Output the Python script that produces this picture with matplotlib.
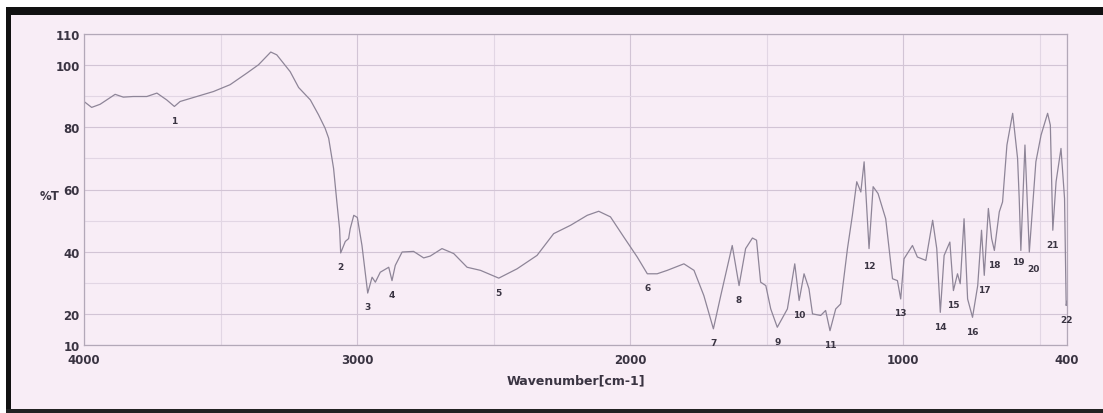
import matplotlib.pyplot as plt
from matplotlib.patches import Rectangle

# IR spectrum (wavenumber in cm-1, transmittance in %T)
wavenumber = [4000, 3972, 3941, 3886, 3856, 3820, 3770, 3733, 3697, 3669, 3648, 3587,
              3526, 3465, 3404, 3361, 3316, 3294, 3245, 3214, 3171, 3141, 3117, 3104,
              3086, 3074, 3064, 3060, 3043, 3031, 3025, 3012, 2999, 2982, 2961, 2945,
              2933, 2915, 2884, 2872, 2860, 2835, 2793, 2756, 2732, 2689, 2646, 2597,
              2548, 2481, 2414, 2341, 2280, 2218, 2157, 2115, 2072, 2023, 1974, 1937,
              1901, 1864, 1803, 1766, 1730, 1695, 1668, 1626, 1601, 1577, 1552, 1537,
              1522, 1503, 1485, 1461, 1424, 1397, 1381, 1363, 1345, 1332, 1302, 1284,
              1268, 1247, 1229, 1204, 1186, 1170, 1155, 1143, 1125, 1110, 1092, 1064,
              1039, 1021, 1009, 997, 966, 948, 917, 892, 877, 864, 850, 829, 816, 801,
              791, 777, 764, 746, 727, 713, 703, 688, 676, 666, 648, 636, 620, 599, 581,
              575, 569, 554, 538, 514, 495, 471, 461, 452, 440, 422, 409, 403, 400]
transmittance = [88.3, 86.4, 87.4, 90.6, 89.7, 89.9, 89.9, 91.0, 88.8, 86.7, 88.3, 89.9,
                 91.5, 93.7, 97.4, 100.1, 104.2, 103.3, 97.9, 92.8, 88.8, 84.0, 79.7, 76.5,
                 66.8, 56.0, 47.4, 39.6, 43.3, 44.2, 47.4, 51.7, 51.0, 42.0, 26.7, 31.8,
                 30.2, 33.4, 35.0, 30.7, 35.6, 39.9, 40.1, 38.0, 38.6, 41.0, 39.4, 35.0,
                 34.0, 31.5, 34.5, 38.8, 45.8, 48.5, 51.7, 53.0, 51.2, 44.7, 38.3, 32.9,
                 32.9, 34.0, 36.1, 34.0, 25.9, 15.2, 25.9, 42.0, 29.1, 41.0, 44.4, 43.7,
                 30.2, 29.1, 21.6, 15.7, 21.6, 36.1, 24.3, 32.9, 28.1, 20.0, 19.5, 21.1,
                 14.6, 21.6, 23.2, 41.0, 51.7, 62.5, 59.2, 68.9, 41.0, 60.9, 58.7, 50.6,
                 31.3, 30.7, 24.8, 37.7, 42.0, 38.3, 37.2, 50.1, 41.0, 20.5, 38.8, 43.1, 27.5, 32.9,
                 29.7, 50.6, 24.8, 18.9, 29.1, 46.9, 32.4, 53.9, 44.2, 40.4, 52.8, 56.0, 74.3, 84.5, 70.0,
                 57.1, 40.4, 74.3, 39.9, 68.9, 77.5, 84.5, 80.7, 46.9, 62.5, 73.2, 57.1, 22.7, 24.0]

# numbered peaks
peak_wn = [3669, 3060, 2961, 2872, 2481, 1937, 1695, 1601, 1461, 1381, 1268,
           1125, 1009, 864, 816, 746, 703, 666, 569, 538, 452, 403]
peak_t = [86.7, 39.6, 26.7, 30.7, 31.5, 32.9, 15.2, 29.1, 15.7, 24.3, 14.6,
          41.0, 24.8, 20.5, 27.5, 18.9, 32.4, 40.4, 40.4, 39.9, 46.9, 22.7]

x_ticks = [4000, 3000, 2000, 1000, 400]
y_ticks = [10, 20, 40, 60, 80, 100, 110]

bg = '#f8edf6'
line_col = '#8e8598'
text_col = '#3a3442'

fig = plt.figure(figsize=(11.03, 4.14), dpi=100, facecolor='white')
# scanned page: pink paper with dark edges
fig.add_artist(Rectangle((6/1103, 0), 1, 1 - 8/414, transform=fig.transFigure,
                         facecolor=bg, edgecolor='none', zorder=-10))
fig.add_artist(Rectangle((6/1103, 1 - 16/414), 1, 8/414, transform=fig.transFigure,
                         facecolor='#111111', edgecolor='none', zorder=-9))
fig.add_artist(Rectangle((6/1103, 0), 5/1103, 1 - 8/414, transform=fig.transFigure,
                         facecolor='#111111', edgecolor='none', zorder=-9))
fig.add_artist(Rectangle((6/1103, 0), 1, 4/414, transform=fig.transFigure,
                         facecolor='#222222', edgecolor='none', zorder=-9))

ax = fig.add_axes([84/1103, 1 - 346/414, (1067 - 84)/1103, (346 - 35)/414])
ax.set_facecolor('none')
ax.plot(wavenumber, transmittance, color=line_col, lw=0.9)

for i, (w, t) in enumerate(zip(peak_wn, peak_t)):
    n = i + 1
    dx, dy = 0, -10
    if n == 19:
        dx, dy = -2, -8
    elif n == 20:
        dx, dy = 3, -12
    elif n == 12:
        dy = -12
    ax.annotate(str(n), (w, t), xytext=(dx, dy), textcoords='offset points',
                ha='center', va='center', fontsize=6.5, fontweight='bold', color=text_col)

ax.set_xlim(4000, 400)
ax.set_ylim(10, 110)
ax.set_xticks(x_ticks)
ax.set_xticks([3500, 2500, 1500, 500], minor=True)
ax.set_yticks(y_ticks)
ax.set_yticks([30, 50, 70, 90], minor=True)
ax.grid(True, which='major', color='#d2c4d5', lw=0.8)
ax.grid(True, which='minor', color='#e2d6e4', lw=0.8)
ax.tick_params(which='both', length=0, labelsize=8.5, labelcolor=text_col)
ax.tick_params(axis='x', pad=6)
ax.tick_params(axis='y', pad=3)
for lab in ax.get_xticklabels() + ax.get_yticklabels():
    lab.set_fontweight('bold')
for s in ax.spines.values():
    s.set_color('#b3a8b8')
    s.set_linewidth(0.9)

ax.set_xlabel('Wavenumber[cm-1]', fontsize=9, fontweight='bold', color=text_col, labelpad=5)
fig.text(40/1103, 1 - 197/414, '%T', fontsize=8.5, fontweight='bold', color=text_col,
         ha='left', va='center')

fig.savefig('out.png', dpi=100, facecolor=fig.get_facecolor())
